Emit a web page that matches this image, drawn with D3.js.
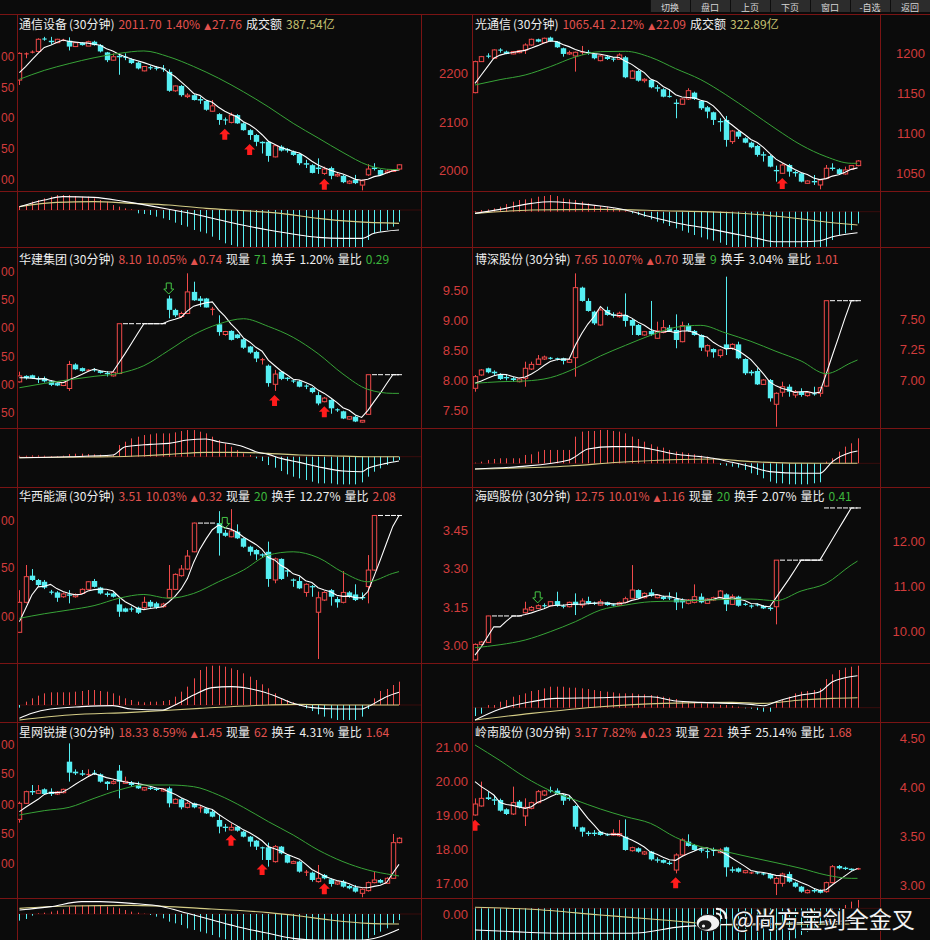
<!DOCTYPE html>
<html><head><meta charset="utf-8">
<script src="https://cdn.jsdelivr.net/npm/d3@7"></script>
<style>html,body{margin:0;padding:0;background:#0b0b0b;overflow:hidden}svg{display:block}</style>
</head><body>
<svg id="c" width="930" height="940"></svg>
<script>
// ===================== DATA =====================
const maIdx=[0,4,8,12,16,20,24,28,32,36,40,44,48,52,56,60,61];
const toolbarLabels=["切换","盘口","上页","下页","窗口","-自选","返回"];
const watermarkText="@尚方宝剑全金叉";

// ---- Panel 1 通信设备 ----
const p1Title=[["通信设备","w"],["(30分钟)","w"],["2011.70","r"],["1.40%","r"],["▲","r"],["27.76","r"],["成交额","w"],["387.54亿","y"]];
const p1Ticks=[2200,2100,2000];
const p1LeftCut=["00","50","00","50","00"];
const p1Ohlc=[[2186,2243,2176,2241],[2239,2243,2231,2241],[2243,2247,2241,2244],[2245,2272,2243,2270],[2271,2275,2267,2270],[2267,2275,2260,2264],[2263,2271,2262,2270],[2267,2271,2266,2269],[2267,2274,2247,2255],[2255,2264,2254,2263],[2263,2264,2257,2258],[2256,2267,2256,2265],[2265,2267,2257,2258],[2258,2260,2243,2245],[2243,2244,2223,2227],[2227,2241,2226,2234],[2236,2241,2197,2233],[2234,2241,2227,2232],[2229,2231,2219,2221],[2222,2224,2208,2210],[2205,2215,2204,2214],[2212,2216,2207,2211],[2211,2215,2206,2210],[2210,2217,2203,2208],[2203,2208,2162,2164],[2164,2175,2162,2174],[2174,2176,2152,2155],[2152,2159,2149,2155],[2155,2157,2144,2145],[2147,2152,2137,2144],[2143,2145,2123,2125],[2122,2145,2121,2133],[2116,2118,2094,2104],[2105,2109,2094,2103],[2099,2119,2097,2114],[2114,2116,2096,2097],[2097,2099,2082,2083],[2083,2085,2063,2073],[2073,2075,2050,2059],[2059,2060,2035,2056],[2059,2061,2018,2030],[2028,2052,2027,2051],[2049,2052,2039,2041],[2044,2046,2037,2041],[2039,2041,2030,2032],[2034,2035,2011,2015],[2015,2022,2005,2012],[2011,2013,1994,1995],[2006,2025,1993,2003],[1994,2008,1991,2003],[2005,2008,1982,1989],[1989,1996,1987,1992],[1989,1991,1974,1976],[1974,1980,1972,1978],[1981,1991,1972,1974],[1970,1981,1959,1979],[1991,2013,1989,2003],[2006,2015,2000,2003],[2001,2002,1989,1991],[1996,2002,1994,1999],[1998,2002,1997,2001],[2003,2013,2000,2011.7]];
const p1Ma5Head=[2201.4,2213.7,2227.4,2241];
const p1Ma20=[2187.6,2206,2220,2232,2241,2246,2234,2214,2190,2162,2131,2097,2067,2037,2011,2002,2002];
const p1Hist=[1.0,1.5,2.5,3.0,3.5,4.0,4.5,4.5,4.5,4.2,4.0,4.0,3.5,3.0,2.5,1.5,1.0,0.5,0.2,-1.0,-1.2,-1.5,-2.0,-2.5,-3.0,-3.8,-4.5,-5.0,-6.0,-6.5,-7.0,-8.0,-9.0,-10.0,-10.5,-11.0,-12,-12,-12,-12,-12,-12,-12,-12,-12,-12,-12,-12,-12,-12,-12,-12,-12,-12,-12,-12,-9.0,-7.0,-6.5,-6.0,-5.0,-3.5];
const p1DifIdx=[0,4,7,12,17,24,30,35,40,45,48,52,55,57,61];
const p1DifVal=[1.0,3.0,4.0,3.8,2.5,0.2,-2.0,-4.2,-6.0,-7.5,-8.2,-8.5,-8.5,-7.0,-6.0];
const p1DeaIdx=[0,6,12,18,24,30,36,42,48,54,61];
const p1DeaVal=[1.0,2.3,2.5,2.0,1.5,0.5,-0.2,-1.0,-2.5,-3.5,-4.0];
const p1Up=[33,37,49], p1Dn=[];

// ---- Panel 2 光通信 ----
const p2Title=[["光通信","w"],["(30分钟)","w"],["1065.41","r"],["2.12%","r"],["▲","r"],["22.09","r"],["成交额","w"],["322.89亿","y"]];
const p2Ticks=[1200,1150,1100,1050];
const p2Ohlc=[[1150.8,1190.8,1150,1189.6],[1189.6,1196.7,1189.2,1195.8],[1197,1200,1193.8,1195.8],[1193.8,1205,1193,1204.2],[1204.6,1206.3,1200.8,1203.3],[1202.1,1203.3,1198.8,1199.2],[1199.2,1202.9,1198.8,1202.1],[1200.8,1204.2,1200,1203.3],[1204.2,1212.5,1199.2,1210.4],[1210.4,1218.3,1209.6,1217.5],[1217.5,1218.3,1213.8,1214.6],[1213.3,1219.6,1212.5,1218.8],[1219.6,1220.8,1214.6,1215.4],[1214.6,1215.4,1206.7,1207.5],[1206.3,1207.1,1195.8,1199.2],[1199.2,1203.3,1197.9,1200.8],[1196.7,1202.1,1177.1,1201.3],[1200.8,1209.2,1197.9,1202.1],[1201.7,1204.2,1198.3,1200.4],[1199.2,1200,1192.5,1193.8],[1190.8,1197.9,1190,1196.7],[1195.8,1197.1,1191.7,1192.9],[1193.3,1195,1189.6,1192.1],[1192.5,1200,1191.7,1197.9],[1195,1196.7,1168.8,1170],[1168.8,1179.2,1168,1177.9],[1177.9,1179.2,1164.6,1165.8],[1165.8,1168.8,1163.3,1167.5],[1166.7,1167.5,1156.3,1157.5],[1157.5,1160.4,1152.1,1155.8],[1155,1156.3,1145,1145.8],[1146.7,1155,1144.6,1145.4],[1138.3,1142.5,1118.8,1136.7],[1136.3,1143.8,1135.4,1142.9],[1142.9,1156.3,1141.7,1153.3],[1150.8,1152.1,1141.7,1142.9],[1140.4,1141.7,1129.2,1131.3],[1132.5,1134.2,1118.8,1127.1],[1126.3,1127.1,1110.4,1116.7],[1115.4,1118.8,1102.1,1113.8],[1116.7,1121.7,1083.3,1091.7],[1089.6,1104.2,1086.7,1102.9],[1102.1,1103.3,1092.9,1095.8],[1093.8,1095,1087.5,1088.3],[1088.3,1089.6,1081.3,1082.5],[1084.2,1085.4,1070.8,1073],[1073.8,1077,1064.6,1072.1],[1071.7,1072.9,1057.5,1058.3],[1054.2,1059.6,1039.6,1052.5],[1050,1062.5,1049.2,1060.4],[1060.4,1061.7,1045.8,1052.1],[1051.7,1053.3,1045.8,1050],[1050,1050.8,1038.7,1039.6],[1037.5,1041.3,1036.7,1040.4],[1040.4,1047.9,1035.4,1038.7],[1035.4,1042.5,1030,1041.7],[1043.8,1060.4,1042.9,1056.3],[1057.1,1062.5,1053.3,1055.4],[1055,1056.3,1048.3,1049.2],[1049.2,1058.3,1048.3,1054.2],[1055,1060.4,1054.2,1059.6],[1059.6,1066.5,1058.8,1065.41]];
const p2Ma5Head=[1162.5,1172.9,1183.3,1193.8];
const p2Ma20=[1160.4,1167.1,1172.9,1183.3,1195.4,1202.1,1202.5,1195,1180.8,1167.1,1148.3,1127.1,1105.4,1085.4,1070.8,1062.5,1062.5];
const p2Hist=[0.2,0.5,0.7,1.0,1.5,2.3,3.0,3.5,3.7,4.0,4.5,4.7,5.0,4.7,4.0,3.7,3.5,3.0,2.5,2.0,1.7,1.5,1.0,0.7,0.3,-0.5,-1.0,-1.5,-2.3,-3.0,-3.5,-4.3,-5.0,-5.7,-6.3,-7.0,-7.7,-8.3,-8.7,-9.3,-10.0,-12,-12,-12,-12,-12,-12,-12,-12,-12,-12,-12,-12,-12,-12,-12,-10.5,-8.5,-7.0,-6.5,-5.5,-3.5];
const p2DifIdx=[0,4,9,12,16,20,24,28,32,37,41,45,48,52,55,57,61];
const p2DifVal=[-0.5,0.7,2.5,3.0,2.5,1.7,0.5,-1.5,-3.3,-5.0,-6.5,-8.0,-9.0,-9.0,-8.7,-7.5,-6.3];
const p2DeaIdx=[0,9,20,30,41,49,57,61];
const p2DeaVal=[-0.5,0.5,0.7,0.3,-0.3,-1.5,-3.3,-4.0];
const p2Up=[49], p2Dn=[];

// ---- Panel 3 华建集团 ----
const p3Title=[["华建集团","w"],["(30分钟)","w"],["8.10","r"],["10.05%","r"],["▲","r"],["0.74","r"],["现量","w"],["71","g"],["换手","w"],["1.20%","w"],["量比","w"],["0.29","g"]];
const p3Ticks=[9.5,9.0,8.5,8.0,7.5];
const p3LeftCut=["00","50","00","50","00","50"];
const p3Ohlc=[[7.98,8.15,7.97,8.08],[8.08,8.09,8.02,8.04],[8.09,8.10,8.03,8.04],[8.04,8.07,7.96,8.02],[8.04,8.07,7.97,7.99],[7.99,8.01,7.91,7.93],[7.96,7.97,7.91,7.92],[7.92,7.98,7.91,7.97],[7.87,8.33,7.83,8.27],[8.27,8.29,8.18,8.19],[8.21,8.22,8.15,8.16],[8.17,8.19,8.16,8.18],[8.19,8.21,8.15,8.17],[8.16,8.17,8.12,8.13],[8.13,8.16,8.07,8.11],[8.08,8.16,8.07,8.14],[8.12,8.95,8.11,8.95],[8.95,8.95,8.95,8.95],[8.95,8.95,8.95,8.95],[8.95,8.95,8.95,8.95],[8.95,8.95,8.95,8.95],[8.95,8.95,8.95,8.95],[8.95,8.95,8.95,8.95],[8.95,8.95,8.95,8.95],[9.37,9.42,9.04,9.18],[9.18,9.20,9.06,9.09],[9.07,9.15,9.05,9.12],[9.12,9.79,9.11,9.48],[9.48,9.65,9.33,9.34],[9.37,9.41,9.23,9.33],[9.37,9.38,9.22,9.22],[9.18,9.23,9.09,9.20],[8.94,9.09,8.75,8.81],[8.77,8.83,8.75,8.82],[8.83,8.84,8.67,8.68],[8.77,8.78,8.70,8.71],[8.69,8.71,8.53,8.55],[8.57,8.58,8.45,8.47],[8.48,8.50,8.31,8.37],[8.34,8.38,8.27,8.36],[8.25,8.27,7.90,7.96],[7.94,8.18,7.83,8.11],[8.15,8.16,8.01,8.03],[8.05,8.06,8.00,8.03],[8.00,8.02,7.96,7.99],[7.99,8.01,7.89,7.90],[7.92,7.94,7.86,7.90],[7.88,7.89,7.79,7.81],[7.76,7.82,7.59,7.62],[7.65,7.73,7.64,7.71],[7.68,7.69,7.45,7.54],[7.52,7.54,7.48,7.51],[7.49,7.50,7.36,7.37],[7.36,7.41,7.35,7.40],[7.40,7.42,7.31,7.32],[7.31,7.34,7.30,7.34],[7.44,8.10,7.43,8.10],[8.10,8.10,8.10,8.10],[8.10,8.10,8.10,8.10],[8.10,8.10,8.10,8.10],[8.10,8.10,8.10,8.10],[8.10,8.10,8.10,8.10]];
const p3Ma5Head=[8.05,8.05,8.04,8.03];
const p3Ma20=[7.883,7.955,8.016,8.072,8.122,8.25,8.505,8.767,8.944,9.033,8.905,8.722,8.45,8.111,7.855,7.789,7.789];
const p3Hist=[0.3,0.3,0.4,0.4,0.3,0.2,0.2,0.3,0.8,0.9,0.9,0.8,0.7,0.6,0.5,0.5,3.5,4.5,5.5,6.0,6.5,6.7,7.0,7.0,7.0,7.3,7.7,8.0,8.0,7.5,7.0,6.0,5.0,4.0,3.0,2.0,1.0,0.5,-0.5,-1.3,-2.5,-3.3,-4.3,-5.3,-6.0,-6.5,-7.0,-7.5,-8.0,-8.0,-8.0,-8.3,-8.3,-8.3,-8.3,-7.7,-6.0,-4.5,-3.5,-2.5,-1.5,-1.0];
const p3DifIdx=[0,8,15,17,21,24,27,30,32,36,38,40,42,45,48,52,55,56,59,61];
const p3DifVal=[-0.3,0,0.5,3.0,3.7,4.0,5.0,5.3,4.5,3.0,1.5,0.7,-0.5,-1.7,-3.0,-4.3,-4.5,-3.5,-2.0,-1.3];
const p3DeaIdx=[0,11,20,24,30,35,40,45,50,56,61];
const p3DeaVal=[-0.3,-0.1,0.3,0.7,1.3,1.3,1.0,0.5,0.3,0,0];
const p3Up=[41,49], p3Dn=[24];

// ---- Panel 4 博深股份 ----
const p4Title=[["博深股份","w"],["(30分钟)","w"],["7.65","r"],["10.07%","r"],["▲","r"],["0.70","r"],["现量","w"],["9","g"],["换手","w"],["3.04%","w"],["量比","w"],["1.01","r"]];
const p4Ticks=[7.5,7.25,7.0];
const p4Ohlc=[[6.932,7.041,6.904,7.027],[7.041,7.090,7.035,7.082],[7.096,7.101,7.055,7.063],[7.068,7.079,7.041,7.055],[7.041,7.055,7.000,7.008],[7.025,7.041,6.997,7.014],[7.014,7.025,6.986,7.000],[6.986,7.014,6.981,7.008],[7.014,7.150,6.945,7.096],[7.090,7.150,7.082,7.128],[7.128,7.205,7.123,7.172],[7.172,7.200,7.164,7.188],[7.181,7.189,7.167,7.175],[7.178,7.183,7.161,7.170],[7.178,7.183,7.128,7.156],[7.145,7.178,7.139,7.167],[7.183,7.874,7.027,7.757],[7.757,7.765,7.642,7.648],[7.648,7.670,7.560,7.566],[7.560,7.568,7.451,7.464],[7.451,7.588,7.445,7.574],[7.574,7.601,7.527,7.533],[7.538,7.555,7.511,7.527],[7.519,7.560,7.511,7.547],[7.533,7.710,7.437,7.484],[7.492,7.500,7.369,7.445],[7.451,7.459,7.363,7.369],[7.369,7.402,7.363,7.396],[7.402,7.648,7.363,7.374],[7.342,7.478,7.336,7.402],[7.390,7.492,7.383,7.429],[7.429,7.451,7.396,7.402],[7.410,7.538,7.260,7.328],[7.314,7.478,7.309,7.446],[7.446,7.465,7.396,7.402],[7.402,7.410,7.363,7.369],[7.369,7.374,7.238,7.265],[7.238,7.292,7.191,7.282],[7.254,7.260,7.183,7.227],[7.200,7.254,7.183,7.246],[7.292,7.847,7.205,7.254],[7.260,7.301,7.246,7.292],[7.292,7.314,7.170,7.178],[7.172,7.178,7.041,7.055],[7.068,7.082,7.036,7.055],[7.074,7.096,6.959,6.964],[6.964,7.008,6.959,7.000],[7.000,7.008,6.823,6.850],[6.801,6.899,6.617,6.891],[6.900,6.986,6.863,6.945],[6.945,6.964,6.863,6.904],[6.877,6.918,6.855,6.904],[6.904,6.932,6.863,6.877],[6.872,6.904,6.863,6.896],[6.891,6.945,6.872,6.883],[6.891,6.945,6.863,6.937],[6.950,7.650,6.945,7.650],[7.65,7.65,7.65,7.65],[7.65,7.65,7.65,7.65],[7.65,7.65,7.65,7.65],[7.65,7.65,7.65,7.65],[7.65,7.65,7.65,7.65]];
const p4Ma5Head=[6.973,6.992,7.014,7.035];
const p4Ma20=[6.973,6.986,6.992,7.019,7.096,7.197,7.284,7.366,7.432,7.448,7.385,7.317,7.235,7.156,7.052,7.142,7.164];
const p4Hist=[0.2,0.5,1.0,1.3,1.5,1.5,1.5,1.5,2.5,2.7,3.5,4.0,4.0,4.0,4.0,4.0,8.0,9.5,9.7,9.7,10.0,10.0,9.7,9.5,9.0,8.0,7.3,6.5,5.7,5.0,4.7,4.0,3.5,3.3,3.0,2.7,2.3,2.0,1.5,-0.5,-0.7,-1.0,-1.3,-2.0,-3.0,-3.5,-4.5,-5.5,-6.0,-6.0,-6.3,-6.3,-6.3,-6.3,-6.0,-5.7,0.5,1.5,3.5,5.0,6.0,7.5];
const p4DifIdx=[0,7,15,16,18,22,25,28,32,36,38,41,44,47,52,55,57,60,61];
const p4DifVal=[-1.7,-1.0,1.0,2.0,4.3,5.0,5.0,4.3,2.7,2.0,1.5,0.3,-1.0,-2.5,-3.0,-3.0,0.5,3.3,3.7];
const p4DeaIdx=[0,15,23,38,44,55,61];
const p4DeaVal=[-1.7,-0.8,0.3,1.3,0.5,0,0];
const p4Up=[], p4Dn=[];

// ---- Panel 5 华西能源 ----
const p5Title=[["华西能源","w"],["(30分钟)","w"],["3.51","r"],["10.03%","r"],["▲","r"],["0.32","r"],["现量","w"],["20","g"],["换手","w"],["12.27%","w"],["量比","w"],["2.08","r"]];
const p5Ticks=[3.45,3.30,3.15,3.00];
const p5LeftCut=["00","50","00"];
const p5Ohlc=[[3.050,3.216,3.047,3.168],[3.168,3.315,3.164,3.269],[3.273,3.299,3.252,3.256],[3.256,3.260,3.229,3.236],[3.249,3.256,3.220,3.226],[3.210,3.217,3.199,3.206],[3.207,3.212,3.170,3.186],[3.190,3.207,3.186,3.201],[3.199,3.216,3.164,3.194],[3.190,3.203,3.186,3.199],[3.203,3.223,3.201,3.219],[3.219,3.252,3.216,3.249],[3.252,3.260,3.226,3.229],[3.226,3.229,3.199,3.203],[3.203,3.210,3.190,3.197],[3.203,3.207,3.187,3.190],[3.160,3.184,3.111,3.131],[3.144,3.147,3.129,3.131],[3.143,3.151,3.131,3.140],[3.147,3.151,3.122,3.127],[3.147,3.190,3.142,3.168],[3.170,3.177,3.147,3.151],[3.164,3.170,3.142,3.147],[3.151,3.166,3.147,3.161],[3.186,3.315,3.184,3.219],[3.219,3.282,3.216,3.278],[3.273,3.315,3.269,3.299],[3.299,3.374,3.295,3.350],[3.367,3.482,3.365,3.48],[3.48,3.48,3.48,3.48],[3.48,3.48,3.48,3.48],[3.48,3.48,3.48,3.48],[3.48,3.527,3.352,3.440],[3.442,3.453,3.426,3.430],[3.426,3.535,3.424,3.449],[3.446,3.475,3.417,3.420],[3.420,3.422,3.383,3.387],[3.387,3.391,3.352,3.367],[3.374,3.378,3.335,3.357],[3.357,3.361,3.344,3.352],[3.367,3.407,3.229,3.260],[3.256,3.344,3.243,3.339],[3.339,3.341,3.256,3.260],[3.294,3.299,3.269,3.289],[3.258,3.262,3.229,3.253],[3.252,3.269,3.220,3.223],[3.207,3.243,3.190,3.239],[3.232,3.236,3.190,3.227],[3.129,3.210,2.945,3.186],[3.177,3.212,3.173,3.207],[3.216,3.220,3.155,3.190],[3.181,3.190,3.147,3.168],[3.168,3.291,3.164,3.207],[3.207,3.212,3.186,3.190],[3.199,3.239,3.173,3.177],[3.189,3.207,3.177,3.184],[3.230,3.354,3.164,3.295],[3.295,3.51,3.292,3.51],[3.51,3.51,3.51,3.51],[3.51,3.51,3.51,3.51],[3.51,3.51,3.51,3.51],[3.51,3.51,3.51,3.51]];
const p5Ma5Head=[3.092,3.144,3.197,3.229];
const p5Ma20=[3.105,3.123,3.138,3.155,3.184,3.199,3.184,3.203,3.249,3.295,3.354,3.367,3.344,3.286,3.249,3.282,3.289];
const p5Hist=[-0.8,1.0,2.0,2.8,3.5,3.8,3.8,3.8,3.8,4.0,4.2,4.5,4.5,4.2,4.0,3.5,2.8,2.0,1.5,1.0,0.8,1.0,1.0,1.2,1.5,2.5,4.0,5.5,8.0,10.5,11.5,11.8,11.8,11.5,11.0,10.5,9.5,8.5,7.5,6.2,5.0,3.5,2.0,1.5,0.8,-0.2,-1.0,-1.8,-2.8,-3.5,-4.0,-4.5,-4.5,-4.5,-4.5,-3.5,-1.2,2.0,4.2,4.8,6.0,7.0];
const p5DifIdx=[0,2,5,10,15,18,23,25,28,31,34,38,41,44,47,51,55,56,59,61];
const p5DifVal=[-4.0,-2.5,-1.2,-0.5,-0.2,-1.2,-1.5,0,3.0,5.2,5.5,4.5,2.8,0.5,-0.8,-1.2,-1.2,-0.5,2.5,3.8];
const p5DeaIdx=[0,8,18,29,40,45,51,61];
const p5DeaVal=[-4.5,-3.0,-2.2,-1.0,0,0.2,0,0];
const p5Up=[], p5Dn=[33];

// ---- Panel 6 海鸥股份 ----
const p6Title=[["海鸥股份","w"],["(30分钟)","w"],["12.75","r"],["10.01%","r"],["▲","r"],["1.16","r"],["现量","w"],["20","g"],["换手","w"],["2.07%","w"],["量比","w"],["0.41","g"]];
const p6Ticks=[12,11,10];
const p6Ohlc=[[9.370,9.740,9.355,9.718],[9.718,9.792,9.703,9.770],[9.763,10.355,9.748,10.35],[10.35,10.35,10.35,10.35],[10.35,10.35,10.35,10.35],[10.35,10.35,10.35,10.35],[10.35,10.35,10.35,10.35],[10.35,10.35,10.35,10.35],[10.422,10.666,10.407,10.503],[10.481,10.570,10.459,10.540],[10.518,10.607,10.503,10.578],[10.585,10.630,10.533,10.570],[10.577,10.681,10.563,10.666],[10.681,10.889,10.555,10.577],[10.577,10.607,10.518,10.555],[10.555,10.667,10.540,10.652],[10.666,10.852,10.370,10.592],[10.592,10.741,10.533,10.681],[10.681,10.778,10.607,10.630],[10.637,10.667,10.592,10.622],[10.592,10.718,10.577,10.666],[10.652,10.667,10.577,10.592],[10.600,10.622,10.563,10.585],[10.592,10.667,10.577,10.644],[10.652,10.778,10.630,10.733],[10.741,11.481,10.726,10.926],[10.926,10.941,10.726,10.741],[10.755,10.874,10.741,10.852],[10.874,10.948,10.778,10.800],[10.755,10.830,10.741,10.815],[10.778,10.800,10.703,10.726],[10.763,10.874,10.703,10.741],[10.726,10.874,10.481,10.652],[10.703,10.741,10.518,10.652],[10.630,10.726,10.607,10.703],[10.652,11.052,10.630,10.778],[10.778,10.852,10.630,10.652],[10.630,10.741,10.615,10.726],[10.703,10.778,10.681,10.755],[10.755,10.926,10.741,10.904],[10.829,10.852,10.459,10.607],[10.607,10.830,10.592,10.778],[10.778,10.800,10.555,10.577],[10.614,10.644,10.577,10.600],[10.577,10.607,10.518,10.563],[10.607,10.630,10.563,10.585],[10.570,10.592,10.503,10.518],[10.533,10.555,10.466,10.503],[10.555,11.59,10.163,11.59],[11.59,11.59,11.59,11.59],[11.59,11.59,11.59,11.59],[11.59,11.59,11.59,11.59],[11.59,11.59,11.59,11.59],[11.59,11.59,11.59,11.59],[11.59,11.59,11.59,11.59],[11.59,11.59,11.59,11.59],[12.75,12.75,12.75,12.75],[12.75,12.75,12.75,12.75],[12.75,12.75,12.75,12.75],[12.75,12.75,12.75,12.75],[12.75,12.75,12.75,12.75],[12.75,12.75,12.75,12.75]];
const p6Ma5Head=[9.481,9.666,9.889,10.111];
const p6Ma20=[9.644,9.711,9.815,10.0,10.222,10.481,10.592,10.666,10.681,10.696,10.718,10.726,10.689,10.904,11.074,11.481,11.57];
const p6Hist=[-2.5,-1.8,0.8,0.8,1.8,2.3,3.3,3.8,4.3,5.0,5.3,5.8,6.3,6.3,6.3,6.0,6.0,5.8,5.6,5.3,5.0,4.8,4.6,4.3,4.3,4.3,4.0,4.0,3.8,3.6,3.3,3.0,2.6,2.0,1.8,1.6,1.3,1.3,1.0,0.8,0.8,0.6,0.3,-0.2,-0.3,-0.7,-1.2,-1.2,1.3,2.3,3.3,4.3,4.8,5.0,5.3,5.8,8.6,10.0,11.3,12.0,12.3,12.6];
const p6DifIdx=[0,4,9,13,20,25,28,32,36,41,44,46,48,52,55,57,59,61];
const p6DifVal=[-3.7,-0.4,1.8,2.8,3.0,3.3,3.3,2.0,1.6,1.3,1.0,0.6,1.8,3.8,4.8,7.8,9.0,9.6];
const p6DeaIdx=[0,9,20,30,41,46,52,57,61];
const p6DeaVal=[-3.7,-1.7,0.3,1.3,1.6,1.3,2.3,2.8,3.0];
const p6Up=[], p6Dn=[10];

// ---- Panel 7 星网锐捷 ----
const p7Title=[["星网锐捷","w"],["(30分钟)","w"],["18.33","r"],["8.59%","r"],["▲","r"],["1.45","r"],["现量","w"],["62","r"],["换手","w"],["4.31%","w"],["量比","w"],["1.64","r"]];
const p7Ticks=[21,20,19,18,17];
const p7LeftCut=["00","50","00","50","00"];
const p7Ohlc=[[18.887,19.408,18.789,19.359],[19.359,19.732,19.339,19.703],[19.723,19.899,19.605,19.683],[19.654,19.899,19.634,19.732],[19.772,19.801,19.605,19.634],[19.703,19.801,19.575,19.634],[19.634,19.723,19.605,19.693],[19.673,19.792,19.654,19.772],[20.588,21.128,20.0,20.264],[20.293,20.362,20.194,20.244],[20.244,20.342,20.165,20.204],[20.194,20.362,20.165,20.224],[20.254,20.342,20.194,20.234],[20.214,20.244,19.969,19.998],[19.998,20.017,19.752,19.929],[19.949,20.047,19.919,19.998],[20.322,20.489,19.506,19.998],[19.949,20.145,19.929,20.008],[19.969,20.017,19.850,19.900],[19.900,19.998,19.782,19.801],[19.752,19.841,19.733,19.821],[19.821,19.850,19.752,19.782],[19.792,19.821,19.723,19.752],[19.723,19.801,19.703,19.782],[19.801,19.850,19.241,19.359],[19.359,19.506,19.339,19.477],[19.477,19.506,19.182,19.241],[19.241,19.408,19.212,19.359],[19.359,19.379,19.212,19.241],[19.212,19.280,19.084,19.241],[19.212,19.241,19.045,19.064],[19.113,19.162,18.946,18.966],[18.868,19.015,18.474,18.671],[18.671,18.750,18.524,18.632],[18.573,18.769,18.553,18.651],[18.671,18.690,18.524,18.553],[18.524,18.553,18.356,18.376],[18.376,18.396,18.081,18.229],[18.258,18.278,17.983,18.081],[18.062,18.081,17.688,18.032],[18.062,18.199,17.492,17.688],[17.639,18.130,17.610,18.081],[18.081,18.101,17.856,17.885],[17.836,17.865,17.590,17.610],[17.590,17.669,17.570,17.639],[17.639,17.669,17.314,17.344],[17.314,17.393,17.216,17.344],[17.314,17.344,17.050,17.098],[17.050,17.541,17.020,17.147],[17.246,17.275,17.118,17.147],[17.118,17.147,16.902,16.980],[16.980,17.059,16.951,17.040],[17.050,17.098,16.873,16.902],[16.921,16.951,16.824,16.853],[16.882,16.951,16.725,16.755],[16.705,16.853,16.588,16.824],[16.784,17.050,16.755,17.020],[17.020,17.344,16.999,17.098],[17.098,17.128,16.999,17.020],[17.000,17.177,16.980,17.147],[17.147,18.455,17.128,18.199],[18.199,18.360,18.180,18.330]];
const p7Ma5Head=[19.113,19.241,19.359,19.477];
const p7Ma20=[19.015,19.143,19.241,19.506,19.752,19.900,19.900,19.850,19.604,19.241,18.819,18.425,17.983,17.639,17.393,17.246,17.216];
const p7Hist=[-2.0,-1.5,-0.5,0.2,0.4,0.7,1.0,1.4,2.2,2.4,2.6,2.6,2.6,2.4,2.2,2.0,1.7,1.2,0.7,0.4,0.1,-0.3,-0.8,-1.3,-2.3,-2.8,-3.3,-4.3,-4.8,-5.3,-5.8,-6.3,-7.0,-7.6,-9,-9,-9,-9,-9,-9,-9,-9,-9,-9,-9,-9,-9,-9,-9,-9,-9,-9,-9,-9,-9,-9,-7.3,-6.3,-5.3,-4.3,-2.8,-1.8];
const p7DifIdx=[0,5,10,13,18,23,27,31,35,40,44,48,55,58,61];
const p7DifVal=[1.2,2.2,3.7,3.7,3.2,2.2,0.2,-1.8,-3.8,-5.8,-7.3,-7.8,-7.8,-6.8,-4.6];
const p7DeaIdx=[0,8,18,29,40,45,50,56,61];
const p7DeaVal=[1.7,2.4,2.6,1.7,0.4,-0.6,-1.8,-2.8,-3.0];
const p7Up=[34,39,49], p7Dn=[];

// ---- Panel 8 岭南股份 ----
const p8Title=[["岭南股份","w"],["(30分钟)","w"],["3.17","r"],["7.82%","r"],["▲","r"],["0.23","r"],["现量","w"],["221","r"],["换手","w"],["25.14%","w"],["量比","w"],["1.68","r"]];
const p8Ticks=[4.5,4.0,3.5,3.0];
const p8Ohlc=[[3.716,3.886,3.709,3.828],[3.808,4.057,3.801,3.886],[3.896,3.952,3.869,3.879],[3.876,3.920,3.818,3.862],[3.869,3.883,3.750,3.760],[3.774,3.784,3.716,3.726],[3.726,4.006,3.716,3.842],[3.852,3.869,3.784,3.794],[3.706,3.886,3.603,3.794],[3.784,3.852,3.774,3.842],[3.842,3.971,3.835,3.954],[3.920,3.971,3.910,3.961],[3.968,4.006,3.944,3.961],[3.965,3.988,3.920,3.931],[3.920,3.930,3.818,3.862],[3.893,3.910,3.862,3.879],[3.808,3.818,3.569,3.596],[3.589,3.596,3.494,3.545],[3.535,3.552,3.501,3.521],[3.535,3.562,3.501,3.521],[3.545,3.552,3.504,3.511],[3.518,3.528,3.501,3.508],[3.511,3.569,3.504,3.528],[3.504,3.665,3.494,3.525],[3.494,3.671,3.351,3.358],[3.351,3.392,3.341,3.382],[3.375,3.385,3.331,3.341],[3.317,3.348,3.307,3.338],[3.341,3.348,3.249,3.262],[3.262,3.283,3.228,3.249],[3.255,3.262,3.221,3.228],[3.228,3.249,3.204,3.215],[3.153,3.324,3.119,3.307],[3.307,3.477,3.296,3.460],[3.443,3.518,3.392,3.399],[3.409,3.419,3.351,3.358],[3.365,3.382,3.331,3.351],[3.348,3.375,3.273,3.338],[3.358,3.382,3.297,3.348],[3.331,3.375,3.324,3.358],[3.385,3.392,3.085,3.181],[3.160,3.187,3.126,3.146],[3.170,3.180,3.126,3.136],[3.126,3.153,3.119,3.146],[3.119,3.136,3.112,3.129],[3.129,3.136,3.109,3.119],[3.119,3.126,3.099,3.109],[3.112,3.119,3.058,3.068],[3.017,3.085,2.897,3.068],[3.017,3.126,2.983,3.112],[3.112,3.136,3.024,3.034],[3.024,3.034,2.973,2.983],[2.983,2.990,2.921,2.932],[2.921,2.955,2.914,2.945],[2.949,2.966,2.921,2.935],[2.949,2.955,2.914,2.921],[2.932,3.034,2.921,3.024],[3.024,3.204,3.017,3.187],[3.194,3.204,3.160,3.170],[3.177,3.187,3.153,3.163],[3.167,3.170,3.146,3.153],[3.160,3.176,3.156,3.170]];
const p8Ma5Head=[4.057,4.006,3.965,3.920];
const p8Ma20=[4.432,4.272,4.101,3.965,3.869,3.777,3.699,3.630,3.487,3.392,3.341,3.283,3.228,3.170,3.102,3.068,3.068];
const p8Hist=[-10,-10,-10,-10,-10,-10,-10,-10,-10,-10,-10,-10,-10,-10,-10,-10,-10,-10,-10,-10,-10,-10,-10,-10,-10,-10,-10,-10,-10,-10,-10,-10,-10,-10,-10,-10,-10,-10,-10,-10,-10,-10,-10,-10,-10,-10,-10,-10,-10,-10,-10,-9,-8,-7,-6,-5,-4,-2.5,-1,1,2,2.5];
const p8DifIdx=[0,6,14,25,33,41,49,57,61];
const p8DifVal=[-6.5,-7.0,-7.5,-7.5,-5.5,-4.8,-4.5,-4.0,-3.5];
const p8DeaIdx=[0,9,20,30,41,52,61];
const p8DeaVal=[0.3,-0.3,-2.0,-3.5,-5.0,-4.8,-4.7];
const p8Up=[0,32], p8Dn=[];

// ===================== LAYOUT =====================
const C={bg:"#0b0b0b",frame:"#7a1414",zero:"#3a0d0d",red:"#f04a4a",cyan:"#55eef2",white:"#ffffff",green:"#37a337",
  yellow:"#d4cc86",axis:"#d23c3c",tw:"#eeeeee",tr:"#e2524e",tg:"#3cb53c",ty:"#c6c070",arrowR:"#ff1c1c",arrowG:"#45c845"};
const cols=[{fl:17,fr:421,c0:19.4,c1:399,lx:468,tx:19},{fl:472,fr:880,c0:475,c1:857.5,lx:925,tx:475}];
const rows=[{top:14,sep:191,bot:247.5,tb:29},{top:247.5,sep:428,bot:487,tb:264},{top:487,sep:663,bot:722,tb:501},{top:722,sep:898,bot:940,tb:737}];
const panels=[
 {col:0,row:0,ohlc:p1Ohlc,head:p1Ma5Head,ma20:p1Ma20,hist:p1Hist,difI:p1DifIdx,difV:p1DifVal,deaI:p1DeaIdx,deaV:p1DeaVal,ticks:p1Ticks,fmt:d3.format("d"),title:p1Title,up:p1Up,dn:p1Dn,av:[2200,2000],ay:[73.3,170.5],mz:210,cut:p1LeftCut,cutY:[57,88,118,149,180]},
 {col:1,row:0,ohlc:p2Ohlc,head:p2Ma5Head,ma20:p2Ma20,hist:p2Hist,difI:p2DifIdx,difV:p2DifVal,deaI:p2DeaIdx,deaV:p2DeaVal,ticks:p2Ticks,fmt:d3.format("d"),title:p2Title,up:p2Up,dn:p2Dn,av:[1200,1050],ay:[53.3,173.3],mz:211.7},
 {col:0,row:1,ohlc:p3Ohlc,head:p3Ma5Head,ma20:p3Ma20,hist:p3Hist,difI:p3DifIdx,difV:p3DifVal,deaI:p3DeaIdx,deaV:p3DeaVal,ticks:p3Ticks,fmt:d3.format(".2f"),title:p3Title,up:p3Up,dn:p3Dn,av:[9.5,7.5],ay:[290.7,410.7],mz:456.7,cut:p3LeftCut,cutY:[272,300,328,357,385,413]},
 {col:1,row:1,ohlc:p4Ohlc,head:p4Ma5Head,ma20:p4Ma20,hist:p4Hist,difI:p4DifIdx,difV:p4DifVal,deaI:p4DeaIdx,deaV:p4DeaVal,ticks:p4Ticks,fmt:d3.format(".2f"),title:p4Title,up:p4Up,dn:p4Dn,av:[7.5,7.0],ay:[319,380],mz:463.3},
 {col:0,row:2,ohlc:p5Ohlc,head:p5Ma5Head,ma20:p5Ma20,hist:p5Hist,difI:p5DifIdx,difV:p5DifVal,deaI:p5DeaIdx,deaV:p5DeaVal,ticks:p5Ticks,fmt:d3.format(".2f"),title:p5Title,up:p5Up,dn:p5Dn,av:[3.45,3.0],ay:[530.7,645],mz:705,cut:p5LeftCut,cutY:[521,568,617]},
 {col:1,row:2,ohlc:p6Ohlc,head:p6Ma5Head,ma20:p6Ma20,hist:p6Hist,difI:p6DifIdx,difV:p6DifVal,deaI:p6DeaIdx,deaV:p6DeaVal,ticks:p6Ticks,fmt:d3.format(".2f"),title:p6Title,up:p6Up,dn:p6Dn,av:[12,10],ay:[541.7,631.7],mz:707.7},
 {col:0,row:3,ohlc:p7Ohlc,head:p7Ma5Head,ma20:p7Ma20,hist:p7Hist,difI:p7DifIdx,difV:p7DifVal,deaI:p7DeaIdx,deaV:p7DeaVal,ticks:p7Ticks,fmt:d3.format(".2f"),title:p7Title,up:p7Up,dn:p7Dn,av:[21,17],ay:[747.7,883.3],mz:914,cut:p7LeftCut,cutY:[745,774,805,834,864],zeroLabel:true},
 {col:1,row:3,ohlc:p8Ohlc,head:p8Ma5Head,ma20:p8Ma20,hist:p8Hist,difI:p8DifIdx,difV:p8DifVal,deaI:p8DeaIdx,deaV:p8DeaVal,ticks:p8Ticks,fmt:d3.format(".2f"),title:p8Title,up:p8Up,dn:p8Dn,av:[4.5,3.0],ay:[738.3,885],mz:908.3}
];

// ===================== DRAW =====================
const svg=d3.select("#c");
svg.append("rect").attr("width",930).attr("height",940).attr("fill",C.bg);
const defs=svg.append("defs");
const labelFont="'Liberation Sans',Arial,sans-serif";
const cjkFont="'Noto Sans CJK SC','Noto Sans',sans-serif";

panels.forEach((p,k)=>{
  const c=cols[p.col], r=rows[p.row];
  const x=d3.scaleLinear().domain([0,61]).range([c.c0,c.c1]);
  const y=d3.scaleLinear().domain(p.av).range(p.ay);
  const ym=d3.scaleLinear().domain([0,1]).range([p.mz,p.mz-3.333]);
  defs.append("clipPath").attr("id","cm"+k).append("rect").attr("x",c.fl+1).attr("y",r.top+1).attr("width",c.fr-c.fl-1).attr("height",r.sep-r.top-1);
  defs.append("clipPath").attr("id","cd"+k).append("rect").attr("x",c.fl+1).attr("y",r.sep+1).attr("width",c.fr-c.fl-1).attr("height",r.bot-r.sep-1);

  // ---------- main price area ----------
  const g=svg.append("g").attr("clip-path","url(#cm"+k+")");
  const bw=4.4;
  p.ohlc.forEach((d,i)=>{
    const [o,h,l,cl]=d; const cx=Math.round(x(i))+0.5;
    const yo=y(o), yc=y(cl), yh=y(h), yl=y(l);
    if(o===cl && h===l){
      g.append("line").attr("x1",cx-bw/2-0.3).attr("x2",cx+bw/2+0.3).attr("y1",yc).attr("y2",yc).attr("stroke",C.white).attr("stroke-width",1);
      return;
    }
    const up=cl>o, dn=cl<o;
    const col= up?C.red:(dn?C.cyan:C.white);
    const top=Math.min(yo,yc), bot=Math.max(yo,yc);
    if(bot-top<1.2){
      g.append("line").attr("x1",cx).attr("x2",cx).attr("y1",yh).attr("y2",yl).attr("stroke",col).attr("stroke-width",1);
      g.append("line").attr("x1",cx-bw/2).attr("x2",cx+bw/2).attr("y1",(top+bot)/2).attr("y2",(top+bot)/2).attr("stroke",col).attr("stroke-width",1.2);
      return;
    }
    if(up){
      g.append("line").attr("x1",cx).attr("x2",cx).attr("y1",yh).attr("y2",top).attr("stroke",col);
      g.append("line").attr("x1",cx).attr("x2",cx).attr("y1",bot).attr("y2",yl).attr("stroke",col);
      g.append("rect").attr("x",cx-bw/2).attr("y",top).attr("width",bw).attr("height",bot-top)
        .attr("fill",C.bg).attr("stroke",col).attr("stroke-width",1);
    } else {
      g.append("line").attr("x1",cx).attr("x2",cx).attr("y1",yh).attr("y2",yl).attr("stroke",col);
      g.append("rect").attr("x",cx-bw/2-0.5).attr("y",top).attr("width",bw+1).attr("height",bot-top).attr("fill",col);
    }
  });
  // moving averages (white = 5-bar average of the closes, green = read MA values)
  const ma5=p.ohlc.map((d,i)=> i<p.head.length ? p.head[i] : d3.mean(p.ohlc.slice(i-4,i+1),e=>e[3]));
  g.append("path").attr("d",d3.line().x((v,i)=>x(i)).y(v=>y(v))(ma5)).attr("fill","none").attr("stroke",C.white).attr("stroke-width",1.1);
  const ma20=maIdx.map((ix,j)=>[ix,p.ma20[j]]);
  g.append("path").attr("d",d3.line().curve(d3.curveMonotoneX).x(d=>x(d[0])).y(d=>y(d[1]))(ma20)).attr("fill","none").attr("stroke",C.green).attr("stroke-width",1);
  // signal arrows
  p.up.forEach(i=>{
    const cx=x(i), t=y(p.ohlc[i][2])+4;
    g.append("path").attr("d",`M${cx},${t}L${cx+5.5},${t+5.5}L${cx+2.5},${t+5.5}L${cx+2.5},${t+11}L${cx-2.5},${t+11}L${cx-2.5},${t+5.5}L${cx-5.5},${t+5.5}Z`).attr("fill",C.arrowR);
  });
  p.dn.forEach(i=>{
    const cx=x(i), b=y(p.ohlc[i][1])-1.5;
    g.append("path").attr("d",`M${cx},${b}L${cx+5},${b-5}L${cx+2.5},${b-5}L${cx+2.5},${b-11}L${cx-2.5},${b-11}L${cx-2.5},${b-5}L${cx-5},${b-5}Z`).attr("fill","none").attr("stroke",C.arrowG).attr("stroke-width",1);
  });

  // ---------- MACD area ----------
  const gm=svg.append("g").attr("clip-path","url(#cd"+k+")");
  gm.append("line").attr("x1",c.fl).attr("x2",c.fr).attr("y1",p.mz).attr("y2",p.mz).attr("stroke",C.zero);
  p.hist.forEach((v,i)=>{
    const cx=Math.round(x(i))+0.5;
    gm.append("line").attr("x1",cx).attr("x2",cx).attr("y1",ym(0)).attr("y2",ym(v)).attr("stroke",v>=0?C.red:C.cyan).attr("stroke-width",1);
  });
  const lm=d3.line().curve(d3.curveMonotoneX).x(d=>x(d[0])).y(d=>ym(d[1]));
  gm.append("path").attr("d",lm(p.deaI.map((ix,j)=>[ix,p.deaV[j]]))).attr("fill","none").attr("stroke",C.yellow).attr("stroke-width",1.1);
  gm.append("path").attr("d",lm(p.difI.map((ix,j)=>[ix,p.difV[j]]))).attr("fill","none").attr("stroke",C.white).attr("stroke-width",1.1);

  // ---------- title ----------
  const t=svg.append("text").attr("x",c.tx).attr("y",r.tb).attr("font-family",cjkFont).attr("font-size",12);
  const cmap={w:C.tw,r:C.tr,g:C.tg,y:C.ty};
  p.title.forEach((s,j)=>{
    const ts=t.append("tspan").text(s[0]).attr("fill",cmap[s[1]]);
    if(s[0]==="▲"){ts.attr("font-size",9).attr("font-family","'DejaVu Sans',sans-serif").attr("dx",4);}
    else if(j>0 && p.title[j-1][0]==="▲"){ts.attr("dx",1);}
    else if(j===1){ts.attr("dx",2);}
    else if(j>0){ts.attr("dx",4);}
  });

  // ---------- axis labels ----------
  p.ticks.forEach(v=>{
    svg.append("text").attr("x",c.lx).attr("y",y(v)).attr("dy","0.36em").attr("text-anchor","end")
      .attr("font-family",labelFont).attr("font-size",13).attr("fill",C.axis).text(p.fmt(v));
  });
  if(p.zeroLabel){
    svg.append("text").attr("x",c.lx).attr("y",ym(0)).attr("dy","0.36em").attr("text-anchor","end")
      .attr("font-family",labelFont).attr("font-size",13).attr("fill",C.axis).text("0.00");
  }
  if(p.cut){
    p.cut.forEach((s,j)=>{
      svg.append("text").attr("x",1).attr("y",p.cutY[j]).attr("dy","0.36em").attr("text-anchor","start")
        .attr("font-family",labelFont).attr("font-size",12).attr("fill",C.axis).text(s);
    });
  }
});

// ---------- frame lines ----------
const fr=svg.append("g").attr("stroke",C.frame).attr("stroke-width",1).attr("shape-rendering","crispEdges");
[14,191,247.5,428,487,663,722,898].forEach(v=>fr.append("line").attr("x1",0).attr("x2",930).attr("y1",Math.floor(v)+0.5).attr("y2",Math.floor(v)+0.5));
[17,421,472,880].forEach(v=>fr.append("line").attr("x1",v+0.5).attr("x2",v+0.5).attr("y1",14).attr("y2",940));

// ---------- toolbar ----------
const tb=d3.scaleBand().domain(toolbarLabels).range([650,930]);
svg.append("rect").attr("x",650).attr("y",0).attr("width",280).attr("height",12).attr("fill","#2c2c2c");
toolbarLabels.forEach(s=>{
  svg.append("line").attr("x1",tb(s)+0.5).attr("x2",tb(s)+0.5).attr("y1",0).attr("y2",12).attr("stroke","#0e0e0e");
  svg.append("text").attr("x",tb(s)+tb.bandwidth()/2).attr("y",10.8).attr("text-anchor","middle")
    .attr("font-family",cjkFont).attr("font-size",9).attr("fill","#d6d6d6").text(s);
});

// ---------- watermark ----------
const wm=svg.append("g");
wm.append("ellipse").attr("cx",708).attr("cy",923).attr("rx",12).attr("ry",8.5).attr("fill","#f4f4f4").attr("stroke","#111").attr("stroke-width",1.2);
wm.append("ellipse").attr("cx",705).attr("cy",925).attr("rx",6.5).attr("ry",4.8).attr("fill","#1a1a1a");
wm.append("circle").attr("cx",703.5).attr("cy",926).attr("r",1.6).attr("fill","#f4f4f4");
wm.append("path").attr("d","M716,909 A9,9 0 0 1 726,919").attr("fill","none").attr("stroke","#f4f4f4").attr("stroke-width",2.2);
wm.append("path").attr("d","M716,913.5 A5,5 0 0 1 721.5,919").attr("fill","none").attr("stroke","#f4f4f4").attr("stroke-width",2);
wm.append("text").attr("x",732).attr("y",928).attr("font-family",cjkFont).attr("font-size",23)
  .attr("fill","#f4f4f4").attr("stroke","#111").attr("stroke-width",2).attr("paint-order","stroke").text(watermarkText);
</script>
</body></html>
